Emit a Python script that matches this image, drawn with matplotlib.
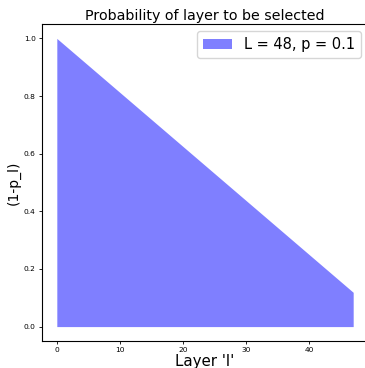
import matplotlib
matplotlib.use("Agg")
import matplotlib.pyplot as plt

### ---- Data
layers = [0, 47]
keep_prob = [1.0, 0.119]
label = "L = 48, p = 0.1"

### ---- Plot
fig = plt.figure(figsize=(3.65, 3.68), dpi=100)
ax = fig.add_axes([42 / 365, 1 - 341 / 368, 326 / 365, 317 / 368])
ax.fill_between(layers, keep_prob, color="blue", alpha=0.5, linewidth=0, label=label)

ax.set_title("Probability of layer to be selected", fontsize=10.3, pad=3)
ax.set_xlabel("Layer 'l'", fontsize=10.8, labelpad=0.3)
ax.set_ylabel("(1-p_l)", fontsize=10, labelpad=2.5)
ax.tick_params(labelsize=5.4, length=2.5, width=0.6, pad=2)
for s in ax.spines.values():
    s.set_linewidth(0.8)
ax.legend(loc="upper right", fontsize=10.5, handlelength=2.0)

fig.savefig("out.png", dpi=100)
